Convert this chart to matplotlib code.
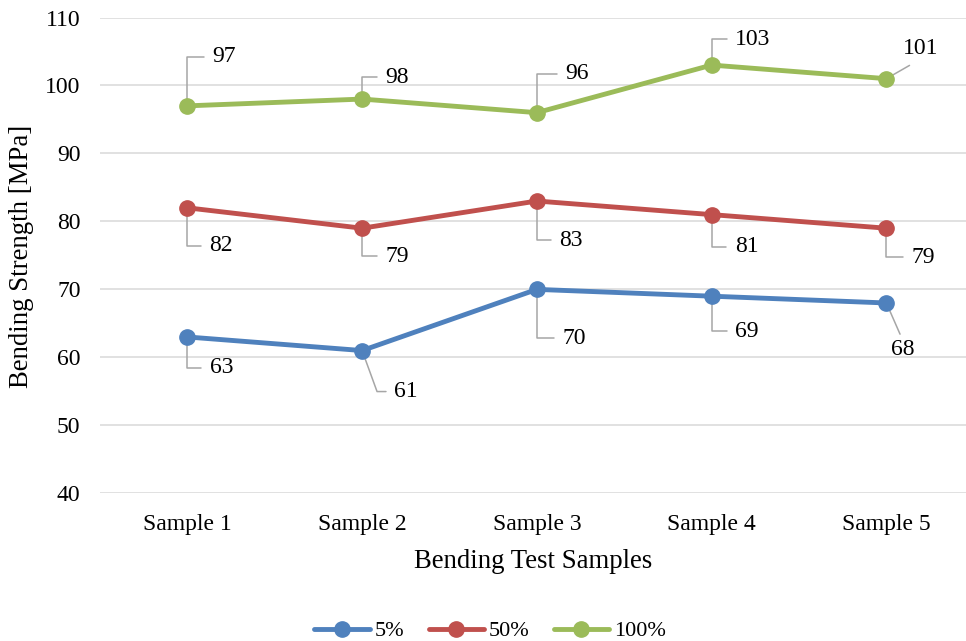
import matplotlib
matplotlib.use("Agg")
import matplotlib.pyplot as plt

categories = ["Sample 1", "Sample 2", "Sample 3", "Sample 4", "Sample 5"]
series_names = ["5%", "50%", "100%"]
s5 = [63, 61, 70, 69, 68]
s50 = [82, 79, 83, 81, 79]
s100 = [97, 98, 96, 103, 101]
y_ticks = [40, 50, 60, 70, 80, 90, 100, 110]

colors = ["#4F81BD", "#C0504D", "#9BBB59"]

# label placement (pixel offsets from the point, y up) and leader style
label_offsets = {
    "5%": [(34, -28, "elbow"), (44, -38, "bent"), (37, -46, "elbow"), (35, -32, "elbow"), (16, -44, "straight_down")],
    "50%": [(34, -35, "elbow"), (35, -25, "elbow"), (34, -36, "elbow"), (35, -29, "elbow"), (37, -26, "elbow")],
    "100%": [(37, 52, "elbow"), (35, 25, "elbow"), (40, 42, "elbow"), (41, 29, "elbow"), (34, 33, "straight_up")],
}
label_shift = -3  # compensate for bbox centring (descender space)

plt.rcParams["font.family"] = ["Liberation Serif", "DejaVu Serif"]

W, H = 966, 641
fig = plt.figure(figsize=(W / 100, H / 100), dpi=100)
ax_left, ax_right = 100, 966
ax_top, ax_bottom = 17.5, 493.3
ax = fig.add_axes([ax_left / W, (H - ax_bottom) / H, (ax_right - ax_left) / W, (ax_bottom - ax_top) / H])

x = list(range(len(categories)))
spacing = 174.75
ax.set_xlim(-0.5, -0.5 + (ax_right - ax_left) / spacing)
ax.set_ylim(40, 110)
ax.set_yticks(y_ticks)
ax.set_xticks(x)
ax.set_xticklabels(categories)
for s in ax.spines.values():
    s.set_visible(False)
ax.tick_params(axis="both", length=0, labelsize=17)
ax.tick_params(axis="y", pad=14)
ax.tick_params(axis="x", pad=15)
ax.grid(axis="y", color="#D9D9D9", linewidth=1.1)
ax.set_axisbelow(True)

ax.set_xlabel("Bending Test Samples", fontsize=19.3, labelpad=10)
ax.set_ylabel("Bending Strength [MPa]", fontsize=19.3, va="center")
ax.yaxis.set_label_coords((22 - ax_left) / (ax_right - ax_left), 0.497)

handles = []
for name, vals, c in zip(series_names, [s5, s50, s100], colors):
    h, = ax.plot(x, vals, color=c, lw=3.5, marker="o", markersize=11,
                 solid_capstyle="round", zorder=3, label=name)
    handles.append(h)
    for xi, v, (dx, dy, style) in zip(x, vals, label_offsets[name]):
        if style == "elbow":
            ap = dict(arrowstyle="-", color="#A6A6A6", lw=1.1, shrinkA=4, shrinkB=0,
                      relpos=(0, 0.5), connectionstyle="angle,angleA=0,angleB=90,rad=0")
        elif style == "bent":
            ap = dict(arrowstyle="-", color="#A6A6A6", lw=1.1, shrinkA=4, shrinkB=0,
                      relpos=(0, 0.5), connectionstyle="angle,angleA=0,angleB=-70,rad=0")
        elif style == "straight_up":
            ap = dict(arrowstyle="-", color="#A6A6A6", lw=1.1, shrinkA=5, shrinkB=0,
                      relpos=(0.5, 0.0), connectionstyle="arc3")
        else:
            ap = dict(arrowstyle="-", color="#A6A6A6", lw=1.1, shrinkA=2, shrinkB=0,
                      relpos=(0.5, 1.0), connectionstyle="arc3")
        ax.annotate(str(v), xy=(xi, v), xytext=(dx, dy + label_shift), textcoords="offset pixels",
                    ha="center", va="center", fontsize=17, color="black",
                    arrowprops=ap, zorder=2)

fig.legend(handles=handles, labels=series_names, loc="center", ncol=3,
           bbox_to_anchor=(490 / W, 10 / H), frameon=False, fontsize=16,
           handlelength=2.5, handletextpad=0.2, columnspacing=1.1)

fig.savefig("out.png", dpi=100)
